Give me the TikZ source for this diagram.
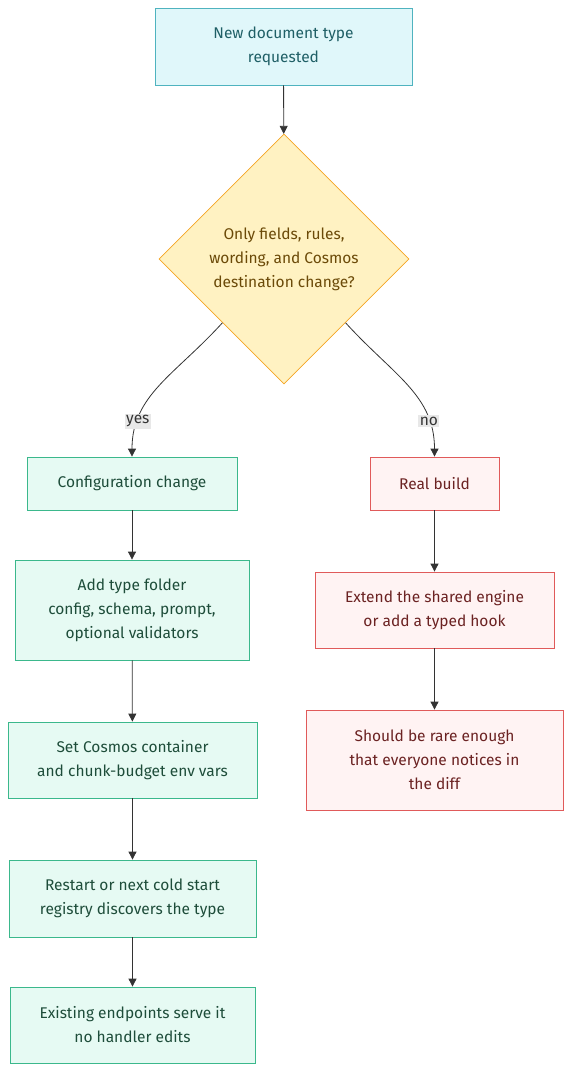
\documentclass[tikz,border=0pt]{standalone}
\usepackage{fontspec}
\setmainfont{Fira Sans}
\usetikzlibrary{shapes.geometric,arrows.meta}
\definecolor{cyfill}{HTML}{E0F7FA}
\definecolor{cystroke}{HTML}{4FB3BF}
\definecolor{cytext}{HTML}{1F5F66}
\definecolor{yfill}{HTML}{FFF2C2}
\definecolor{ystroke}{HTML}{F5A524}
\definecolor{ytext}{HTML}{6B4A08}
\definecolor{gfill}{HTML}{E6FAF3}
\definecolor{gstroke}{HTML}{3BB88C}
\definecolor{gtext}{HTML}{1E4D3A}
\definecolor{rfill}{HTML}{FFF3F3}
\definecolor{rstroke}{HTML}{E05A5A}
\definecolor{rtext}{HTML}{6B2222}
\definecolor{edge}{HTML}{333333}
\definecolor{lblbg}{HTML}{E8E8E8}
\tikzset{
  box/.style={rectangle, align=center, inner sep=0pt, font=\fontsize{15.5}{24}\selectfont, line width=0.8pt},
  startbox/.style={box, fill=cyfill, draw=cystroke, text=cytext},
  decbox/.style={diamond, aspect=1, inner sep=0pt, minimum width=250pt, minimum height=250pt, fill=yfill, draw=ystroke, text=ytext, align=center, font=\fontsize{15.5}{24}\selectfont, line width=0.8pt},
  gbox/.style={box, fill=gfill, draw=gstroke, text=gtext},
  rbox/.style={box, fill=rfill, draw=rstroke, text=rtext},
  conn/.style={draw=edge, line width=0.8pt, -{Triangle[length=8pt,width=8pt]}},
  lbl/.style={fill=lblbg, text=edge, font=\fontsize{15.5}{18}\selectfont, inner sep=1.5pt}
}
\begin{document}
\begin{tikzpicture}[x=1pt,y=-1pt]
\useasboundingbox (0,0) rectangle (579,1086);
\node[startbox, minimum width=257pt, minimum height=77pt] (start) at (283.5,46.5) {New document type\\requested};
\node[decbox] (dec) at (284,259) {Only fields, rules,\\wording, and Cosmos\\destination change?};
\node[gbox, minimum width=210pt, minimum height=53pt] (cfg) at (132,483.5) {Configuration change};
\node[rbox, minimum width=129pt, minimum height=53pt] (real) at (434.5,483.5) {Real build};
\node[gbox, minimum width=234pt, minimum height=100pt] (add) at (132,610) {Add type folder\\config, schema, prompt,\\optional validators};
\node[rbox, minimum width=239pt, minimum height=76pt] (ext) at (434.5,610) {Extend the shared engine\\or add a typed hook};
\node[gbox, minimum width=249pt, minimum height=76pt] (env) at (132.5,760) {Set Cosmos container\\and chunk-budget env vars};
\node[rbox, minimum width=257pt, minimum height=100pt] (rare) at (434.5,760) {Should be rare enough\\that everyone notices in\\the diff};
\node[gbox, minimum width=247pt, minimum height=77pt] (restart) at (132.5,898.5) {Restart or next cold start\\registry discovers the type};
\node[gbox, minimum width=245pt, minimum height=76pt] (exist) at (132.5,1025) {Existing endpoints serve it\\no handler edits};
\draw[conn] (start) -- (dec);
\draw[conn] (dec.226) .. controls (175,375) and (132,395) .. node[lbl, pos=0.78] {yes} (cfg.north);
\draw[conn] (dec.314) .. controls (393,375) and (434.5,395) .. node[lbl, pos=0.78] {no} (real.north);
\draw[conn] (cfg) -- (add);
\draw[conn] (add) -- (env);
\draw[conn] (env) -- (restart);
\draw[conn] (restart) -- (exist);
\draw[conn] (real) -- (ext);
\draw[conn] (ext) -- (rare);
\end{tikzpicture}
\end{document}
